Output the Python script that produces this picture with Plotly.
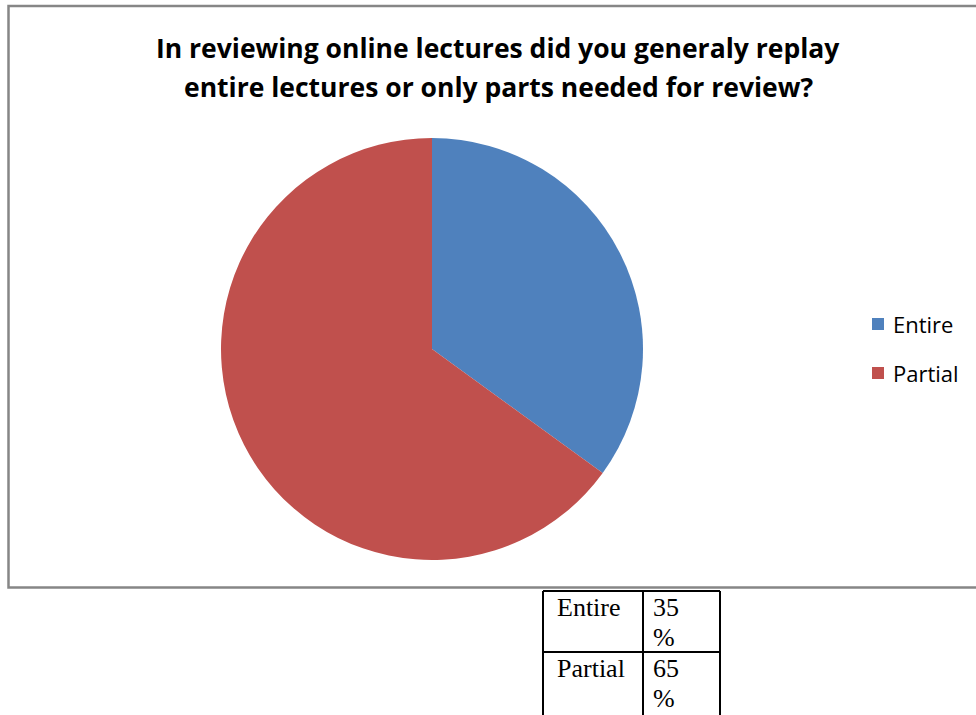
import plotly.graph_objects as go

# Survey answers
categories = ["Entire", "Partial"]
shares = [35, 65]
colors = ["#4F81BD", "#C0504D"]
title_lines = ["In reviewing online lectures did you generaly replay",
               "entire lectures or only parts needed for review?"]

W, H = 976, 715


def px(x):
    return x / W


def py(y):
    return 1 - y / H


fig = go.Figure()
fig.add_trace(go.Pie(
    labels=categories,
    values=shares,
    sort=False,
    direction="clockwise",
    rotation=0,
    marker=dict(colors=colors, line=dict(width=0)),
    textinfo="none",
    hoverinfo="label+percent",
    showlegend=False,
    domain=dict(x=[px(221), px(643)], y=[py(560), py(138)]),
))

shapes = []
annotations = []

# chart frame
shapes.append(dict(type="rect", xref="paper", yref="paper",
                   x0=px(8.5), x1=px(1000), y0=py(587.5), y1=py(6),
                   line=dict(color="#868686", width=2.5), fillcolor="rgba(0,0,0,0)"))

# title, one annotation per line
for i, line in enumerate(title_lines):
    annotations.append(dict(text="<b>" + line + "</b>", xref="paper", yref="paper",
                            x=px(498), y=py(48 + 39 * i), xanchor="center", yanchor="middle",
                            showarrow=False, align="center",
                            font=dict(family="Open Sans", size=26.5, color="#000000")))

# legend, drawn by hand
for i, (cat, col) in enumerate(zip(categories, colors)):
    yc = 324 + i * 49
    shapes.append(dict(type="rect", xref="paper", yref="paper",
                       x0=px(872), x1=px(884), y0=py(yc + 6), y1=py(yc - 6),
                       line=dict(width=0), fillcolor=col))
    annotations.append(dict(text=cat, xref="paper", yref="paper",
                            x=px(891), y=py(yc), xanchor="left", yanchor="middle",
                            showarrow=False,
                            font=dict(family="Open Sans", size=22, color="#000000")))

# data table below the chart
col_x = [543, 643, 720]
row_y = [591, 652, 714]
for x in col_x:
    shapes.append(dict(type="line", xref="paper", yref="paper",
                       x0=px(x), x1=px(x), y0=py(row_y[0]), y1=py(716),
                       line=dict(color="#000000", width=2)))
for y in row_y[:2]:
    shapes.append(dict(type="line", xref="paper", yref="paper",
                       x0=px(col_x[0]), x1=px(col_x[-1]), y0=py(y), y1=py(y),
                       line=dict(color="#000000", width=2)))

tfont = dict(family="Liberation Serif", size=26, color="#000000")
for i, (cat, val) in enumerate(zip(categories, shares)):
    top = row_y[i]
    annotations.append(dict(text=cat, xref="paper", yref="paper",
                            x=px(555), y=py(top + 16), xanchor="left", yanchor="middle",
                            showarrow=False, font=tfont))
    annotations.append(dict(text=str(val), xref="paper", yref="paper",
                            x=px(651), y=py(top + 16), xanchor="left", yanchor="middle",
                            showarrow=False, font=tfont))
    annotations.append(dict(text="%", xref="paper", yref="paper",
                            x=px(651), y=py(top + 46), xanchor="left", yanchor="middle",
                            showarrow=False, font=tfont))

fig.update_layout(
    width=W, height=H,
    margin=dict(l=0, r=0, t=0, b=0),
    paper_bgcolor="#FFFFFF",
    plot_bgcolor="#FFFFFF",
    shapes=shapes,
    annotations=annotations,
)

fig.write_html("out.html")
